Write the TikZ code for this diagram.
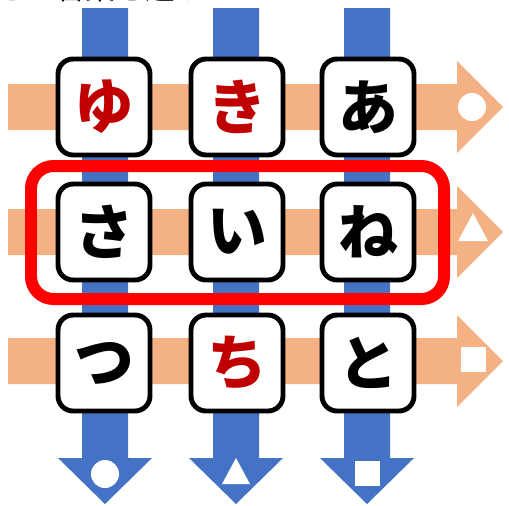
\documentclass[tikz,border=0pt]{standalone}
\usepackage{fontspec}
\newfontfamily\jpfont{Noto Sans CJK JP}
\usepackage{xcolor}
\definecolor{Azul}{RGB}{68, 114, 196}
\definecolor{Salmon}{RGB}{244, 177, 131}
\definecolor{Rojo}{RGB}{255, 0, 0}
\definecolor{Granate}{RGB}{192, 0, 0}
\tikzset{
	letra/.style={draw=black, line width=2.8pt, fill=white, rounded corners=0.3cm,
		minimum width=1.84cm, minimum height=1.92cm, inner sep=0pt,
		font=\jpfont\bfseries\fontsize{34}{34}\selectfont},
	marco/.style={draw=Rojo, line width=0.24cm, rounded corners=0.45cm}
}

\begin{document}
\begin{tikzpicture}[x=0.02cm, y=-0.02cm]
	\useasboundingbox (0,0) rectangle (509,505);
	% Texto de arriba (cortado)
	\node[anchor=base west, inner sep=0pt, font=\jpfont\fontsize{17}{17}\selectfont] (titulo) at (-4,-1) {どの言葉を選ぶ？};
	% Flechas verticales
	\fill[Azul] (82,8) -- (128,8) -- (128,458) -- (152,458) -- (105,504) -- (58,458) -- (82,458) -- cycle;
	\fill[Azul] (213,8) -- (259,8) -- (259,458) -- (283,458) -- (236,504) -- (189,458) -- (213,458) -- cycle;
	\fill[Azul] (344,8) -- (390,8) -- (390,458) -- (414,458) -- (367,504) -- (320,458) -- (344,458) -- cycle;
	\fill[white] (105,474) circle (14);
	\fill[white] (236,458) -- (250,484) -- (222,484) -- cycle;
	\fill[white] (355,461) rectangle (380,486);
	% Flechas horizontales
	\fill[Salmon] (8,84) -- (457,84) -- (457,61) -- (503,107) -- (457,153) -- (457,130) -- (8,130) -- cycle;
	\fill[Salmon] (8,209) -- (457,209) -- (457,186) -- (503,232) -- (457,278) -- (457,255) -- (8,255) -- cycle;
	\fill[Salmon] (8,338) -- (457,338) -- (457,315) -- (503,361) -- (457,407) -- (457,384) -- (8,384) -- cycle;
	\fill[white] (472,107) circle (14);
	\fill[white] (473,213) -- (488,241) -- (458,241) -- cycle;
	\fill[white] (461,347) rectangle (486,372);
	% Marco rojo
	\draw[marco] (31,166) rectangle (444,299);
	% Letras
	\node[letra, text=Granate] (yu) at (104,107) {ゆ};
	\node[letra, text=Granate] (ki) at (237,107) {き};
	\node[letra] (a) at (368,107) {あ};
	\node[letra] (sa) at (104,232) {さ};
	\node[letra] (i) at (237,232) {い};
	\node[letra] (ne) at (368,232) {ね};
	\node[letra] (tsu) at (104,363) {つ};
	\node[letra, text=Granate] (chi) at (237,363) {ち};
	\node[letra] (to) at (368,363) {と};
\end{tikzpicture}
\end{document}
